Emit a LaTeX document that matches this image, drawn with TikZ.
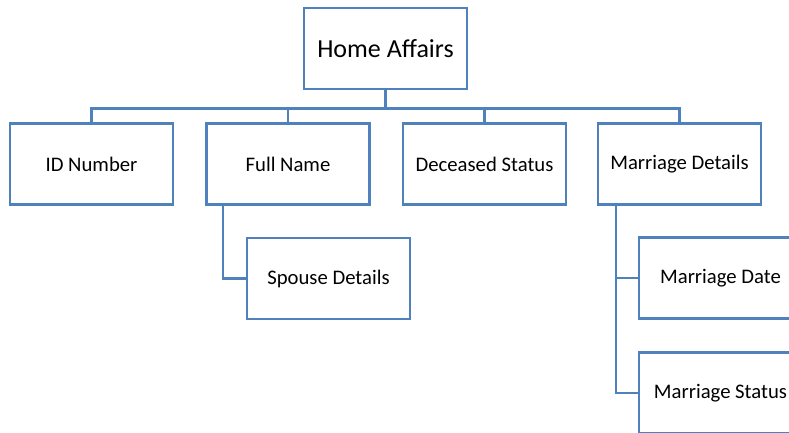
\documentclass[tikz,border=0pt]{standalone}
\usepackage{fontspec}
\setmainfont{Carlito}
\definecolor{boxblue}{HTML}{4F81BD}
\begin{document}
\begin{tikzpicture}[x=1pt,y=-1pt,
  box/.style={draw=boxblue,line width=2.8pt,fill=white,rectangle,minimum width=163pt,minimum height=81pt,inner sep=0pt,font=\fontsize{20.7}{24}\selectfont,text=black},
  link/.style={draw=boxblue,line width=2.8pt}]
\useasboundingbox (0,0) rectangle (789,433);
\clip (0,0) rectangle (789,433);
\node[box,font=\fontsize{26}{30}\selectfont] (home) at (385.5,48.5) {Home Affairs};
\node[box] (id) at (91.5,164) {ID Number};
\node[box] (full) at (288,164) {Full Name};
\node[box] (dec) at (484.5,164) {Deceased Status};
\node[box] (mar) at (679.5,164) {Marriage Details};
\node[box] (spouse) at (328.5,278.5) {Spouse Details};
\node[box] (mdate) at (720.5,278) {Marriage Date};
\node[box] (mstat) at (720.5,393) {Marriage Status};
\foreach \c in {id,full,dec,mar}
  \draw[link] (home.south) -- ++(0,18) -| (\c.north);
\draw[link] ([xshift=-65pt]full.south) |- (spouse.west);
\draw[link] ([xshift=-63.5pt]mar.south) |- (mdate.west);
\draw[link] ([xshift=-63.5pt]mar.south) |- (mstat.west);
\end{tikzpicture}
\end{document}
